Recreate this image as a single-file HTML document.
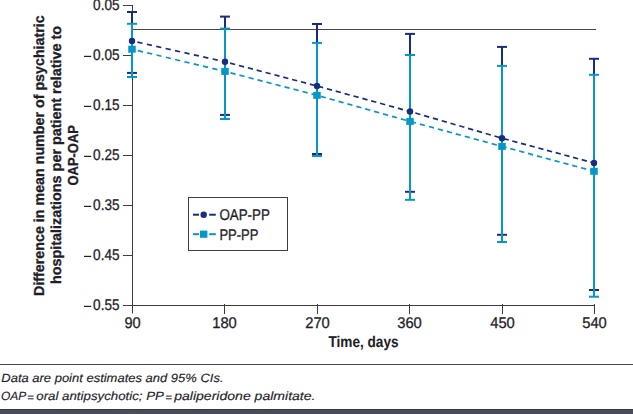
<!DOCTYPE html>
<html><head><meta charset="utf-8"><style>
html,body{margin:0;padding:0;background:#fff;}
body{width:633px;height:414px;overflow:hidden;position:relative;}
svg{position:absolute;left:0;top:0;text-rendering:geometricPrecision;}
.tk{font-family:"Liberation Sans",sans-serif;font-size:15.5px;fill:#1e1e28;stroke:#1e1e28;stroke-width:0.3px;}
.bt{font-family:"Liberation Sans",sans-serif;font-size:14.5px;font-weight:bold;fill:#1e1e28;stroke:#1e1e28;stroke-width:0.3px;}
.ft{font-family:"Liberation Sans",sans-serif;font-size:12px;font-style:italic;fill:#1e1e28;stroke:#1e1e28;stroke-width:0.15px;}
</style></head><body>
<svg width="633" height="414" viewBox="0 0 633 414">
<line x1="132.5" y1="5" x2="132.5" y2="313.5" stroke="#3d3d3d" stroke-width="1"/>
<line x1="132" y1="305.5" x2="595" y2="305.5" stroke="#3d3d3d" stroke-width="1"/>
<line x1="123" y1="5.5" x2="133" y2="5.5" stroke="#3d3d3d" stroke-width="1"/>
<line x1="123" y1="55.5" x2="133" y2="55.5" stroke="#3d3d3d" stroke-width="1"/>
<line x1="123" y1="105.5" x2="133" y2="105.5" stroke="#3d3d3d" stroke-width="1"/>
<line x1="123" y1="155.5" x2="133" y2="155.5" stroke="#3d3d3d" stroke-width="1"/>
<line x1="123" y1="205.5" x2="133" y2="205.5" stroke="#3d3d3d" stroke-width="1"/>
<line x1="123" y1="255.5" x2="133" y2="255.5" stroke="#3d3d3d" stroke-width="1"/>
<line x1="123" y1="305.5" x2="133" y2="305.5" stroke="#3d3d3d" stroke-width="1"/>
<line x1="224.5" y1="304" x2="224.5" y2="314" stroke="#3d3d3d" stroke-width="1"/>
<line x1="317.5" y1="304" x2="317.5" y2="314" stroke="#3d3d3d" stroke-width="1"/>
<line x1="409.5" y1="304" x2="409.5" y2="314" stroke="#3d3d3d" stroke-width="1"/>
<line x1="502.5" y1="304" x2="502.5" y2="314" stroke="#3d3d3d" stroke-width="1"/>
<line x1="594.5" y1="304" x2="594.5" y2="314" stroke="#3d3d3d" stroke-width="1"/>
<line x1="133" y1="29.5" x2="596" y2="29.5" stroke="#474747" stroke-width="1"/>
<line x1="132" y1="12.0" x2="132" y2="72.9" stroke="#182c80" stroke-width="2"/>
<line x1="127" y1="12.0" x2="137" y2="12.0" stroke="#182c80" stroke-width="2"/>
<line x1="127" y1="72.9" x2="137" y2="72.9" stroke="#182c80" stroke-width="2"/>
<line x1="225" y1="16.6" x2="225" y2="114.9" stroke="#182c80" stroke-width="2"/>
<line x1="220" y1="16.6" x2="230" y2="16.6" stroke="#182c80" stroke-width="2"/>
<line x1="220" y1="114.9" x2="230" y2="114.9" stroke="#182c80" stroke-width="2"/>
<line x1="317" y1="24.0" x2="317" y2="154.0" stroke="#182c80" stroke-width="2"/>
<line x1="312" y1="24.0" x2="322" y2="24.0" stroke="#182c80" stroke-width="2"/>
<line x1="312" y1="154.0" x2="322" y2="154.0" stroke="#182c80" stroke-width="2"/>
<line x1="410" y1="33.9" x2="410" y2="191.8" stroke="#182c80" stroke-width="2"/>
<line x1="405" y1="33.9" x2="415" y2="33.9" stroke="#182c80" stroke-width="2"/>
<line x1="405" y1="191.8" x2="415" y2="191.8" stroke="#182c80" stroke-width="2"/>
<line x1="502" y1="46.9" x2="502" y2="234.8" stroke="#182c80" stroke-width="2"/>
<line x1="497" y1="46.9" x2="507" y2="46.9" stroke="#182c80" stroke-width="2"/>
<line x1="497" y1="234.8" x2="507" y2="234.8" stroke="#182c80" stroke-width="2"/>
<line x1="594" y1="58.8" x2="594" y2="290.0" stroke="#182c80" stroke-width="2"/>
<line x1="589" y1="58.8" x2="599" y2="58.8" stroke="#182c80" stroke-width="2"/>
<line x1="589" y1="290.0" x2="599" y2="290.0" stroke="#182c80" stroke-width="2"/>
<line x1="132" y1="23.8" x2="132" y2="77.0" stroke="#0598c6" stroke-width="2"/>
<line x1="127" y1="23.8" x2="137" y2="23.8" stroke="#0598c6" stroke-width="2"/>
<line x1="127" y1="77.0" x2="137" y2="77.0" stroke="#0598c6" stroke-width="2"/>
<line x1="225" y1="28.6" x2="225" y2="119.0" stroke="#0598c6" stroke-width="2"/>
<line x1="220" y1="28.6" x2="230" y2="28.6" stroke="#0598c6" stroke-width="2"/>
<line x1="220" y1="119.0" x2="230" y2="119.0" stroke="#0598c6" stroke-width="2"/>
<line x1="317" y1="42.9" x2="317" y2="156.0" stroke="#0598c6" stroke-width="2"/>
<line x1="312" y1="42.9" x2="322" y2="42.9" stroke="#0598c6" stroke-width="2"/>
<line x1="312" y1="156.0" x2="322" y2="156.0" stroke="#0598c6" stroke-width="2"/>
<line x1="410" y1="55.0" x2="410" y2="199.8" stroke="#0598c6" stroke-width="2"/>
<line x1="405" y1="55.0" x2="415" y2="55.0" stroke="#0598c6" stroke-width="2"/>
<line x1="405" y1="199.8" x2="415" y2="199.8" stroke="#0598c6" stroke-width="2"/>
<line x1="502" y1="65.9" x2="502" y2="242.0" stroke="#0598c6" stroke-width="2"/>
<line x1="497" y1="65.9" x2="507" y2="65.9" stroke="#0598c6" stroke-width="2"/>
<line x1="497" y1="242.0" x2="507" y2="242.0" stroke="#0598c6" stroke-width="2"/>
<line x1="594" y1="74.8" x2="594" y2="296.7" stroke="#0598c6" stroke-width="2"/>
<line x1="589" y1="74.8" x2="599" y2="74.8" stroke="#0598c6" stroke-width="2"/>
<line x1="589" y1="296.7" x2="599" y2="296.7" stroke="#0598c6" stroke-width="2"/>
<line x1="132" y1="40.9" x2="225" y2="61.8" stroke="#182c80" stroke-width="1.7" stroke-dasharray="5.23 4.41" stroke-dashoffset="4.10"/>
<line x1="225" y1="61.8" x2="317" y2="86.0" stroke="#182c80" stroke-width="1.7" stroke-dasharray="5.27 3.89" stroke-dashoffset="3.89"/>
<line x1="317" y1="86.0" x2="410" y2="111.5" stroke="#182c80" stroke-width="1.7" stroke-dasharray="5.29 3.91" stroke-dashoffset="8.17"/>
<line x1="410" y1="111.5" x2="502" y2="138.2" stroke="#182c80" stroke-width="1.7" stroke-dasharray="5.31 3.85" stroke-dashoffset="3.64"/>
<line x1="502" y1="138.2" x2="594" y2="163.0" stroke="#182c80" stroke-width="1.7" stroke-dasharray="5.28 3.71" stroke-dashoffset="7.33"/>
<line x1="132" y1="49.2" x2="225" y2="71.4" stroke="#0598c6" stroke-width="1.7" stroke-dasharray="5.24 4.32" stroke-dashoffset="3.50"/>
<line x1="225" y1="71.4" x2="317" y2="95.3" stroke="#0598c6" stroke-width="1.7" stroke-dasharray="5.27 4.03" stroke-dashoffset="3.62"/>
<line x1="317" y1="95.3" x2="410" y2="121.4" stroke="#0598c6" stroke-width="1.7" stroke-dasharray="5.30 3.95" stroke-dashoffset="5.40"/>
<line x1="410" y1="121.4" x2="502" y2="146.4" stroke="#0598c6" stroke-width="1.7" stroke-dasharray="5.28 4.02" stroke-dashoffset="8.37"/>
<line x1="502" y1="146.4" x2="594" y2="171.3" stroke="#0598c6" stroke-width="1.7" stroke-dasharray="5.28 3.88" stroke-dashoffset="0.52"/>
<circle cx="132" cy="40.9" r="3.2" fill="#182c80"/>
<circle cx="225" cy="61.8" r="3.2" fill="#182c80"/>
<circle cx="317" cy="86.0" r="3.2" fill="#182c80"/>
<circle cx="410" cy="111.5" r="3.2" fill="#182c80"/>
<circle cx="502" cy="138.2" r="3.2" fill="#182c80"/>
<circle cx="594" cy="163.0" r="3.2" fill="#182c80"/>
<rect x="128.25" y="45.7" width="7.5" height="7" fill="#0598c6"/>
<rect x="221.25" y="67.9" width="7.5" height="7" fill="#0598c6"/>
<rect x="313.25" y="91.8" width="7.5" height="7" fill="#0598c6"/>
<rect x="406.25" y="117.9" width="7.5" height="7" fill="#0598c6"/>
<rect x="498.25" y="142.9" width="7.5" height="7" fill="#0598c6"/>
<rect x="590.25" y="167.8" width="7.5" height="7" fill="#0598c6"/>
<text x="119.5" y="10.3" text-anchor="end" class="tk" textLength="26.4" lengthAdjust="spacingAndGlyphs">0.05</text>
<text x="119.5" y="60.3" text-anchor="end" class="tk" textLength="26.4" lengthAdjust="spacingAndGlyphs">0.05</text>
<rect x="84" y="55.80" width="7.2" height="1.2" fill="#1e1e28"/>
<text x="119.5" y="110.3" text-anchor="end" class="tk" textLength="26.4" lengthAdjust="spacingAndGlyphs">0.15</text>
<rect x="84" y="105.80" width="7.2" height="1.2" fill="#1e1e28"/>
<text x="119.5" y="160.3" text-anchor="end" class="tk" textLength="26.4" lengthAdjust="spacingAndGlyphs">0.25</text>
<rect x="84" y="155.80" width="7.2" height="1.2" fill="#1e1e28"/>
<text x="119.5" y="210.3" text-anchor="end" class="tk" textLength="26.4" lengthAdjust="spacingAndGlyphs">0.35</text>
<rect x="84" y="205.80" width="7.2" height="1.2" fill="#1e1e28"/>
<text x="119.5" y="260.3" text-anchor="end" class="tk" textLength="26.4" lengthAdjust="spacingAndGlyphs">0.45</text>
<rect x="84" y="255.80" width="7.2" height="1.2" fill="#1e1e28"/>
<text x="119.5" y="310.3" text-anchor="end" class="tk" textLength="26.4" lengthAdjust="spacingAndGlyphs">0.55</text>
<rect x="84" y="305.80" width="7.2" height="1.2" fill="#1e1e28"/>
<text x="132.5" y="328" text-anchor="middle" class="tk" textLength="16.2" lengthAdjust="spacingAndGlyphs">90</text>
<text x="224.5" y="328" text-anchor="middle" class="tk" textLength="24.6" lengthAdjust="spacingAndGlyphs">180</text>
<text x="317.5" y="328" text-anchor="middle" class="tk" textLength="24.6" lengthAdjust="spacingAndGlyphs">270</text>
<text x="409.5" y="328" text-anchor="middle" class="tk" textLength="24.6" lengthAdjust="spacingAndGlyphs">360</text>
<text x="502.5" y="328" text-anchor="middle" class="tk" textLength="24.6" lengthAdjust="spacingAndGlyphs">450</text>
<text x="594.5" y="328" text-anchor="middle" class="tk" textLength="24.6" lengthAdjust="spacingAndGlyphs">540</text>
<text x="363.5" y="347.1" text-anchor="middle" class="bt" style="font-size:15.5px;stroke-width:0.1px" textLength="70" lengthAdjust="spacingAndGlyphs">Time, days</text>
<text transform="translate(44.2 155.6) rotate(-90)" x="0" y="0" text-anchor="middle" class="bt" textLength="280.6" lengthAdjust="spacingAndGlyphs">Difference in mean number of psychiatric</text>
<text transform="translate(60.8 155) rotate(-90)" x="0" y="0" text-anchor="middle" class="bt" textLength="258" lengthAdjust="spacingAndGlyphs">hospitalizations per patient relative to</text>
<text transform="translate(77.5 155.3) rotate(-90)" x="0" y="0" text-anchor="middle" class="bt" textLength="60.5" lengthAdjust="spacingAndGlyphs">OAP-OAP</text>
<rect x="188.5" y="197.5" width="99" height="53" fill="#fff" stroke="#3d3d3d" stroke-width="1"/>
<line x1="193" y1="214.7" x2="199" y2="214.7" stroke="#182c80" stroke-width="2"/>
<line x1="209.2" y1="214.7" x2="215.8" y2="214.7" stroke="#182c80" stroke-width="2"/>
<circle cx="203.7" cy="214.7" r="3.2" fill="#182c80"/>
<line x1="193" y1="234.2" x2="199" y2="234.2" stroke="#0598c6" stroke-width="2"/>
<line x1="209.2" y1="234.2" x2="215.8" y2="234.2" stroke="#0598c6" stroke-width="2"/>
<rect x="200" y="230.6" width="7.4" height="7.2" fill="#0598c6"/>
<text x="219.4" y="220.3" class="tk" textLength="50.5" lengthAdjust="spacingAndGlyphs">OAP-PP</text>
<text x="219.4" y="239.7" class="tk" textLength="39" lengthAdjust="spacingAndGlyphs">PP-PP</text>
<line x1="0" y1="364.5" x2="633" y2="364.5" stroke="#46474e" stroke-width="1"/>
<text x="1.3" y="382.1" class="ft" textLength="222.2" lengthAdjust="spacingAndGlyphs">Data are point estimates and 95% CIs.</text>
<text x="1.1" y="399.9" class="ft" textLength="25.2" lengthAdjust="spacingAndGlyphs">OAP</text>
<text x="36.3" y="399.9" class="ft" textLength="127.6" lengthAdjust="spacingAndGlyphs">oral antipsychotic; PP</text>
<text x="174.2" y="399.9" class="ft" textLength="141.3" lengthAdjust="spacingAndGlyphs">paliperidone palmitate.</text>
<rect x="27.8" y="395.6" width="5.8" height="1" fill="#1e1e28"/><rect x="27.8" y="398.3" width="5.8" height="1" fill="#1e1e28"/>
<rect x="165.9" y="395.6" width="5.8" height="1" fill="#1e1e28"/><rect x="165.9" y="398.3" width="5.8" height="1" fill="#1e1e28"/>
<rect x="0" y="409" width="633" height="1" fill="#383c41"/>
<rect x="0" y="410" width="633" height="4" fill="#474e58"/>
</svg>
</body></html>
